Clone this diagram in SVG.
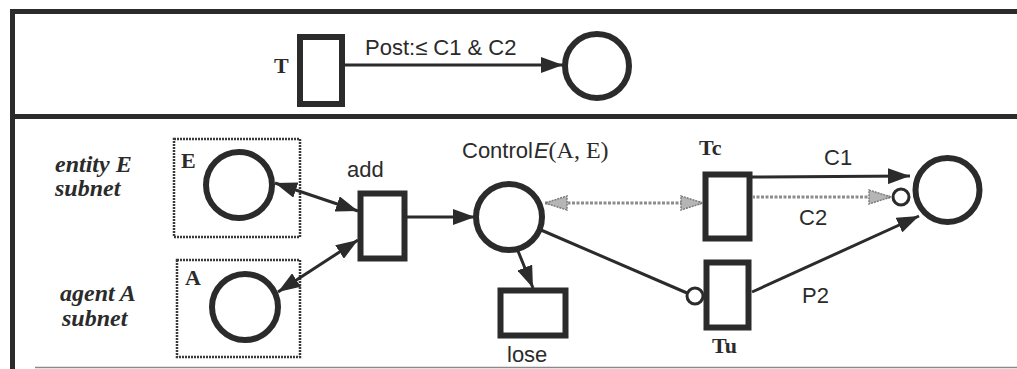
<svg xmlns="http://www.w3.org/2000/svg" width="1017" height="369" viewBox="0 0 1017 369">
  <style>
    .frame { stroke: #2b2b2b; stroke-width: 5; fill: none; }
    .node { stroke: #2b2b2b; stroke-width: 6; fill: #fff; }
    .box { stroke: #3a3a3a; stroke-width: 2.5; stroke-dasharray: 2 1; fill: #fff; }
    .arc { stroke: #2b2b2b; stroke-width: 3; fill: none; }
    .faint { stroke: #8c8c8c; stroke-width: 3; stroke-dasharray: 3 1.5; fill: none; }
    .inh { stroke: #2b2b2b; stroke-width: 3; fill: #fff; }
    .sans { font-family: "Liberation Sans", Arial, sans-serif; font-size: 22px; fill: #2b2b2b; }
    .serif { font-family: "Liberation Serif", "Times New Roman", serif; font-size: 22px; font-weight: bold; fill: #2b2b2b; }
    .side { font-family: "Liberation Serif", "Times New Roman", serif; font-size: 24px; font-style: italic; font-weight: bold; fill: #2b2b2b; }
  </style>
  <defs>
    <marker id="arrow" viewBox="0 0 22 16" markerWidth="22" markerHeight="16" refX="22" refY="8" markerUnits="userSpaceOnUse" orient="auto-start-reverse">
      <path d="M0,0 L22,8 L0,16 z" fill="#2b2b2b"/>
    </marker>
    <marker id="arrowGray" viewBox="0 0 24 16" markerWidth="24" markerHeight="16" refX="23" refY="8" markerUnits="userSpaceOnUse" orient="auto-start-reverse">
      <path d="M1,1 L23,8 L1,15 z" fill="#b5b5b5" stroke="#7a7a7a" stroke-width="1.5" stroke-dasharray="2 1"/>
    </marker>
  </defs>

  <rect width="1017" height="369" fill="#fff"/>

  <!-- frame -->
  <g id="frame">
    <line class="frame" x1="10" y1="11.5" x2="1017" y2="11.5"/>
    <line class="frame" x1="12.5" y1="9" x2="12.5" y2="369"/>
    <line class="frame" x1="12.5" y1="116.5" x2="1017" y2="116.5"/>
    <line x1="35" y1="367.5" x2="1017" y2="367.5" stroke="#8a8a8a" stroke-width="1.5"/>
  </g>

  <!-- upper part: transition T and its output place -->
  <g id="T">
    <rect class="node" x="300" y="37" width="42" height="67"/>
    <text class="serif" x="274" y="73">T</text>
  </g>
  <text class="sans" x="365" y="55">Post:≤ C1 &amp; C2</text>
  <g id="post-place">
    <circle class="node" cx="597" cy="66" r="32"/>
  </g>

  <!-- subnet labels -->
  <text class="side" x="55" y="172">entity E</text>
  <text class="side" x="55" y="196">subnet</text>
  <text class="side" x="60" y="301">agent A</text>
  <text class="side" x="62" y="326">subnet</text>

  <g id="entity-subnet">
    <rect class="box" x="174" y="139" width="126" height="98"/>
    <text class="serif" x="181" y="168">E</text>
    <circle class="node" cx="239" cy="185" r="33"/>
  </g>

  <g id="agent-subnet">
    <rect class="box" x="177" y="260" width="123" height="97"/>
    <text class="serif" x="185" y="285">A</text>
    <circle class="node" cx="245" cy="307" r="33"/>
  </g>

  <g id="add">
    <rect class="node" x="360.5" y="193.5" width="44" height="65"/>
    <text class="sans" x="347" y="177">add</text>
  </g>

  <g id="controlE">
    <circle class="node" cx="509" cy="217" r="33"/>
    <text class="sans" x="462" y="158">Control<tspan dx="1" font-style="italic">E</tspan><tspan font-family="Liberation Serif, Times New Roman, serif" font-size="24">(A, E)</tspan></text>
  </g>

  <g id="lose">
    <rect class="node" x="500.5" y="290.5" width="65" height="45"/>
    <text class="sans" x="507" y="362">lose</text>
  </g>

  <g id="Tc">
    <rect class="node" x="705.5" y="174.5" width="44" height="64"/>
    <text class="serif" x="699" y="155">Tc</text>
  </g>

  <g id="Tu">
    <rect class="node" x="706.5" y="262.5" width="42" height="65"/>
    <text class="serif" x="712" y="353">Tu</text>
  </g>

  <g id="result-place">
    <circle class="node" cx="947.5" cy="190" r="32"/>
  </g>

  <!-- connectors, drawn over the subnet boxes -->
  <g id="connectors">
    <line class="arc" x1="345" y1="65" x2="563" y2="65" marker-end="url(#arrow)"/>
    <line class="arc" x1="275" y1="183" x2="358" y2="211" marker-start="url(#arrow)" marker-end="url(#arrow)"/>
    <line class="arc" x1="278" y1="292" x2="358" y2="240" marker-start="url(#arrow)" marker-end="url(#arrow)"/>
    <line class="arc" x1="407" y1="217" x2="475" y2="217" marker-end="url(#arrow)"/>
    <line class="arc" x1="518" y1="251" x2="533" y2="288" marker-end="url(#arrow)"/>
    <line class="faint" x1="545" y1="203" x2="703" y2="203" marker-start="url(#arrowGray)" marker-end="url(#arrowGray)"/>
    <line class="arc" x1="541" y1="230" x2="687" y2="293"/>
    <circle class="inh" cx="695" cy="296" r="8"/>
    <line class="arc" x1="752" y1="177" x2="910" y2="176" marker-end="url(#arrow)"/>
    <line class="faint" x1="752" y1="197" x2="891" y2="197" marker-end="url(#arrowGray)"/>
    <circle class="inh" cx="901" cy="197" r="8"/>
    <line class="arc" x1="752" y1="292" x2="919" y2="216" marker-end="url(#arrow)"/>
  </g>

  <text class="sans" x="824" y="165">C1</text>
  <text class="sans" x="799" y="225">C2</text>
  <text class="sans" x="802" y="303">P2</text>
</svg>
